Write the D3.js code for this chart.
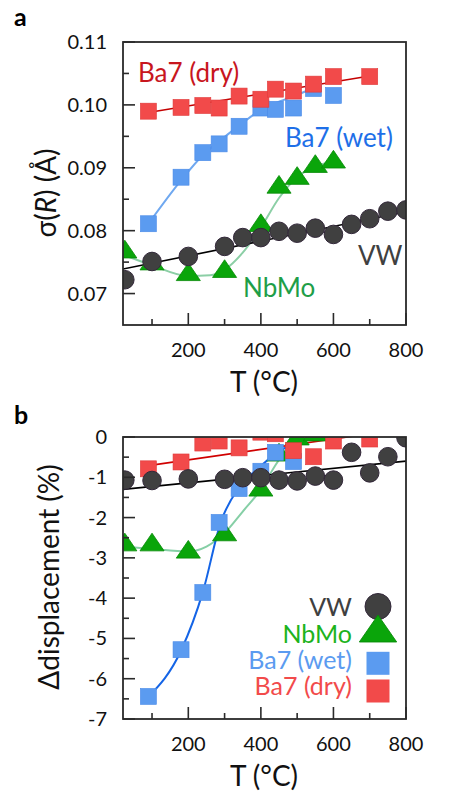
<!DOCTYPE html>
<html>
<head>
<meta charset="utf-8">
<script src="https://cdn.jsdelivr.net/npm/d3@7"></script>
<style>
  html, body { margin: 0; padding: 0; background: #ffffff; }
  svg { display: block; }
  text { font-family: Lato, "Open Sans", sans-serif; }
</style>
</head>
<body>
<svg id="chart" width="450" height="810"></svg>
<script>
// ---------------- DATA ----------------
const xTicksMajor = [200, 400, 600, 800];
const xTicksMinor = [100, 300, 500, 700];
const yTicksA = [0.07, 0.08, 0.09, 0.10, 0.11];
const yTicksAMinor = [0.075, 0.085, 0.095, 0.105];
const yTicksB = [0, -1, -2, -3, -4, -5, -6, -7];
const yTicksBMinor = [-0.5, -1.5, -2.5, -3.5, -4.5, -5.5, -6.5];

const tempVW  = [25, 100, 200, 300, 350, 400, 450, 500, 550, 600, 650, 700, 750, 800];
const tempNb  = [25, 100, 200, 300, 400, 450, 500, 550, 600];
const tempWet = [90, 180, 240, 285, 340, 400, 440, 490, 545, 600];
const tempDry = [90, 180, 240, 285, 340, 400, 440, 490, 545, 600, 700];

// panel a : sigma(R) (Å)
const vwA  = [0.0722, 0.0751, 0.0759, 0.0775, 0.0789, 0.0789, 0.0799, 0.0796, 0.0804, 0.0794, 0.0810, 0.0819, 0.0831, 0.0833];
const nbA  = [0.0766, 0.0747, 0.0730, 0.0735, 0.0808, 0.0869, 0.0883, 0.0902, 0.0909];
const wetA = [0.0811, 0.0885, 0.0924, 0.0938, 0.0966, 0.0995, 0.0993, 0.0995, 0.1026, 0.1015];
const dryA = [0.0990, 0.0996, 0.0999, 0.0995, 0.1014, 0.1009, 0.1025, 0.1022, 0.1033, 0.1045, 0.1045];

// panel b : Δdisplacement (%)
const vwB  = [-1.07, -1.08, -1.04, -1.05, -1.01, -1.01, -1.07, -1.09, -0.97, -1.07, -0.38, -0.89, -0.49, -0.02];
const nbB  = [-2.68, -2.68, -2.86, -2.43, -1.32, -0.45, -0.05, 0.05, 0.15];
const wetB = [-6.44, -5.28, -3.86, -2.12, -1.28, -0.85, -0.38, -0.61, 0.25, 0.35];
const dryB = [-0.79, -0.62, -0.15, -0.10, -0.27, 0.12, 0.08, -0.34, -0.49, -0.10, -0.05];

// fitted guide lines [T, value]
const fitVWA  = [[20, 0.0739], [800, 0.0830]];
const fitDryA = [[90, 0.0988], [700, 0.1046]];
const fitWetA = [[90, 0.0811], [180, 0.0880], [240, 0.0920], [285, 0.0942], [340, 0.0967], [400, 0.0992], [450, 0.1005], [500, 0.1016], [550, 0.1028]];
const fitNbA  = [[20, 0.0762], [100, 0.0745], [200, 0.0728], [260, 0.0729], [300, 0.0738], [350, 0.0765], [400, 0.0805], [450, 0.0852], [500, 0.0885], [550, 0.0902], [600, 0.0910]];

const fitVWB  = [[20, -1.30], [800, -0.60]];
const fitDryB = [[90, -0.71], [700, 0.08]];
const fitWetB = [[90, -6.45], [180, -5.30], [240, -3.85], [290, -2.10], [340, -1.25], [400, -0.72], [445, -0.38], [490, -0.18], [560, 0.0], [600, 0.05]];
const fitNbB  = [[20, -2.72], [100, -2.78], [200, -2.84], [250, -2.72], [300, -2.38], [350, -1.85], [400, -1.30], [440, -0.70], [470, -0.30], [500, 0.05]];

// ---------------- DRAW ----------------
const svg = d3.select("#chart");
const L = 123, R = 406;
const x = d3.scaleLinear().domain([20, 800]).range([L, R]);

const COL = {
  vw: "#404040", vwStroke: "#33283a",
  nb: "#0aa50a", nbStroke: "#078a07",
  wet: "#5b9bf0", dry: "#f24a4a"
};

function panel(cfg) {
  const y = d3.scaleLinear().domain(cfg.yDomain).range([cfg.bottom, cfg.top]);
  const g = svg.append("g");
  const clipId = "clip" + cfg.id;
  svg.append("defs").append("clipPath").attr("id", clipId)
    .append("rect").attr("x", L).attr("y", cfg.top).attr("width", R - L).attr("height", cfg.bottom - cfg.top);

  g.append("rect").attr("x", L).attr("y", cfg.top).attr("width", R - L).attr("height", cfg.bottom - cfg.top)
    .attr("fill", "#fff");

  const plot = g.append("g").attr("clip-path", `url(#${clipId})`);
  const line = d3.line().x(d => x(d[0])).y(d => y(d[1])).curve(d3.curveMonotoneX);

  cfg.fits.forEach(f => {
    plot.append("path").attr("d", line(f.data)).attr("fill", "none")
      .attr("stroke", f.color).attr("stroke-width", f.width);
  });

  const zip = (t, v) => t.map((d, i) => [d, v[i]]);

  const tri = d3.symbol().type(d3.symbolTriangle).size(200);
  plot.selectAll(".tri").data(zip(tempNb, cfg.nb)).join("path")
    .attr("d", tri).attr("transform", d => `translate(${x(d[0])},${y(d[1])}) scale(1.12,0.95)`)
    .attr("fill", COL.nb).attr("stroke", COL.nbStroke).attr("stroke-width", 0.8);

  const s = 16;
  plot.selectAll(".wet").data(zip(tempWet, cfg.wet)).join("rect")
    .attr("x", d => x(d[0]) - s / 2).attr("y", d => y(d[1]) - s / 2)
    .attr("width", s).attr("height", s)
    .attr("fill", COL.wet).attr("stroke", "#4a8ae8").attr("stroke-width", 0.6);

  plot.selectAll(".dry").data(zip(tempDry, cfg.dry)).join("rect")
    .attr("x", d => x(d[0]) - s / 2).attr("y", d => y(d[1]) - s / 2)
    .attr("width", s).attr("height", s)
    .attr("fill", COL.dry).attr("stroke", "#e03a3a").attr("stroke-width", 0.6);

  plot.selectAll(".vw").data(zip(tempVW, cfg.vw)).join("circle")
    .attr("cx", d => x(d[0])).attr("cy", d => y(d[1])).attr("r", 9.3)
    .attr("fill", COL.vw).attr("stroke", COL.vwStroke).attr("stroke-width", 1);

  g.append("rect").attr("x", L).attr("y", cfg.top).attr("width", R - L).attr("height", cfg.bottom - cfg.top)
    .attr("fill", "none").attr("stroke", "#2a2a2a").attr("stroke-width", 1.8);

  const tk = g.append("g").attr("stroke", "#2a2a2a").attr("stroke-width", 1.6);
  xTicksMajor.forEach(t => tk.append("line").attr("x1", x(t)).attr("x2", x(t)).attr("y1", cfg.bottom).attr("y2", cfg.bottom - 12));
  xTicksMinor.forEach(t => tk.append("line").attr("x1", x(t)).attr("x2", x(t)).attr("y1", cfg.bottom).attr("y2", cfg.bottom - 6));
  cfg.yMajor.forEach(t => tk.append("line").attr("x1", L).attr("x2", L + 12).attr("y1", y(t)).attr("y2", y(t)));
  cfg.yMinor.forEach(t => tk.append("line").attr("x1", L).attr("x2", L + 6).attr("y1", y(t)).attr("y2", y(t)));

  g.selectAll(".xl").data(xTicksMajor).join("text")
    .attr("x", d => x(d)).attr("y", cfg.bottom + 32).attr("text-anchor", "middle")
    .attr("font-size", 20).attr("fill", "#111").text(d => d);
  g.selectAll(".yl").data(cfg.yMajor).join("text")
    .attr("x", 107).attr("y", d => y(d) + 7).attr("text-anchor", "end")
    .attr("font-size", 20).attr("fill", "#111").text(cfg.yFmt);

  g.append("text").attr("x", 264).attr("y", cfg.bottom + 67).attr("text-anchor", "middle")
    .attr("font-size", 28).attr("fill", "#111").text("T (°C)");

  return { g, y };
}

// ---------- panel a ----------
const A = panel({
  id: "a", top: 42, bottom: 325, yDomain: [0.065, 0.11],
  yMajor: yTicksA, yMinor: yTicksAMinor, yFmt: d => d3.format(".2f")(d),
  vw: vwA, nb: nbA, wet: wetA, dry: dryA,
  fits: [
    { data: fitNbA, color: "#8ccfa6", width: 2 },
    { data: fitVWA, color: "#000", width: 1.6 },
    { data: fitWetA, color: "#6fa8f0", width: 2 },
    { data: fitDryA, color: "#c40000", width: 1.6 }
  ]
});

svg.append("text").attr("x", 14).attr("y", 26).attr("font-family", "Lato, sans-serif")
  .attr("font-weight", "bold").attr("font-size", 25).attr("fill", "#000").text("a");

const ya = svg.append("text").attr("transform", "translate(56,193) rotate(-90)")
  .attr("text-anchor", "middle").attr("font-size", 28).attr("fill", "#111");
ya.append("tspan").text("σ(");
ya.append("tspan").attr("font-style", "italic").text("R");
ya.append("tspan").text(") (Å)");

const gA = A.g;
gA.append("text").attr("x", 138).attr("y", 82).attr("font-size", 26).attr("fill", "#c8161e").text("Ba7 (dry)");
gA.append("text").attr("x", 285).attr("y", 147).attr("font-size", 26).attr("fill", "#1e6fe8").text("Ba7 (wet)");
gA.append("text").attr("x", 358).attr("y", 265).attr("font-size", 26).attr("fill", "#404040").text("VW");
gA.append("text").attr("x", 243).attr("y", 297).attr("font-size", 26).attr("fill", "#1e9e48").text("NbMo");

// ---------- panel b ----------
const B = panel({
  id: "b", top: 437, bottom: 719, yDomain: [-7, 0],
  yMajor: yTicksB, yMinor: yTicksBMinor, yFmt: d => d === 0 ? "0" : "-" + Math.abs(d),
  vw: vwB, nb: nbB, wet: wetB, dry: dryB,
  fits: [
    { data: fitNbB, color: "#86cfa6", width: 2 },
    { data: fitVWB, color: "#000", width: 1.6 },
    { data: fitWetB, color: "#1464e6", width: 2 },
    { data: fitDryB, color: "#d00000", width: 1.6 }
  ]
});

svg.append("text").attr("x", 14).attr("y", 424).attr("font-family", "Lato, sans-serif")
  .attr("font-weight", "bold").attr("font-size", 25).attr("fill", "#000").text("b");

svg.append("text").attr("transform", "translate(59,577) rotate(-90)")
  .attr("text-anchor", "middle").attr("font-size", 28).attr("fill", "#111").text("Δdisplacement (%)");

// legend
const legendNames = ["VW", "NbMo", "Ba7 (wet)", "Ba7 (dry)"];
const legendColors = ["#404040", "#1db31d", "#5b9bf0", "#f24b4b"];
const legendY = [616, 643, 669, 695];
const gL = B.g.append("g");
legendNames.forEach((n, i) => {
  gL.append("text").attr("x", 352).attr("y", legendY[i]).attr("text-anchor", "end")
    .attr("font-size", 25).attr("fill", legendColors[i]).text(n);
});
const lx = 378;
gL.append("circle").attr("cx", lx).attr("cy", 606.5).attr("r", 13).attr("fill", COL.vw).attr("stroke", COL.vwStroke);
gL.append("path").attr("d", d3.symbol().type(d3.symbolTriangle).size(420)())
  .attr("transform", `translate(${lx},${633}) scale(1.2,1.0)`)
  .attr("fill", COL.nb).attr("stroke", COL.nbStroke).attr("stroke-width", 0.8);
gL.append("rect").attr("x", lx - 11.5).attr("y", 663.3 - 11.5).attr("width", 23).attr("height", 23).attr("fill", COL.wet);
gL.append("rect").attr("x", lx - 11.5).attr("y", 691 - 11.5).attr("width", 23).attr("height", 23).attr("fill", COL.dry);
</script>
</body>
</html>
